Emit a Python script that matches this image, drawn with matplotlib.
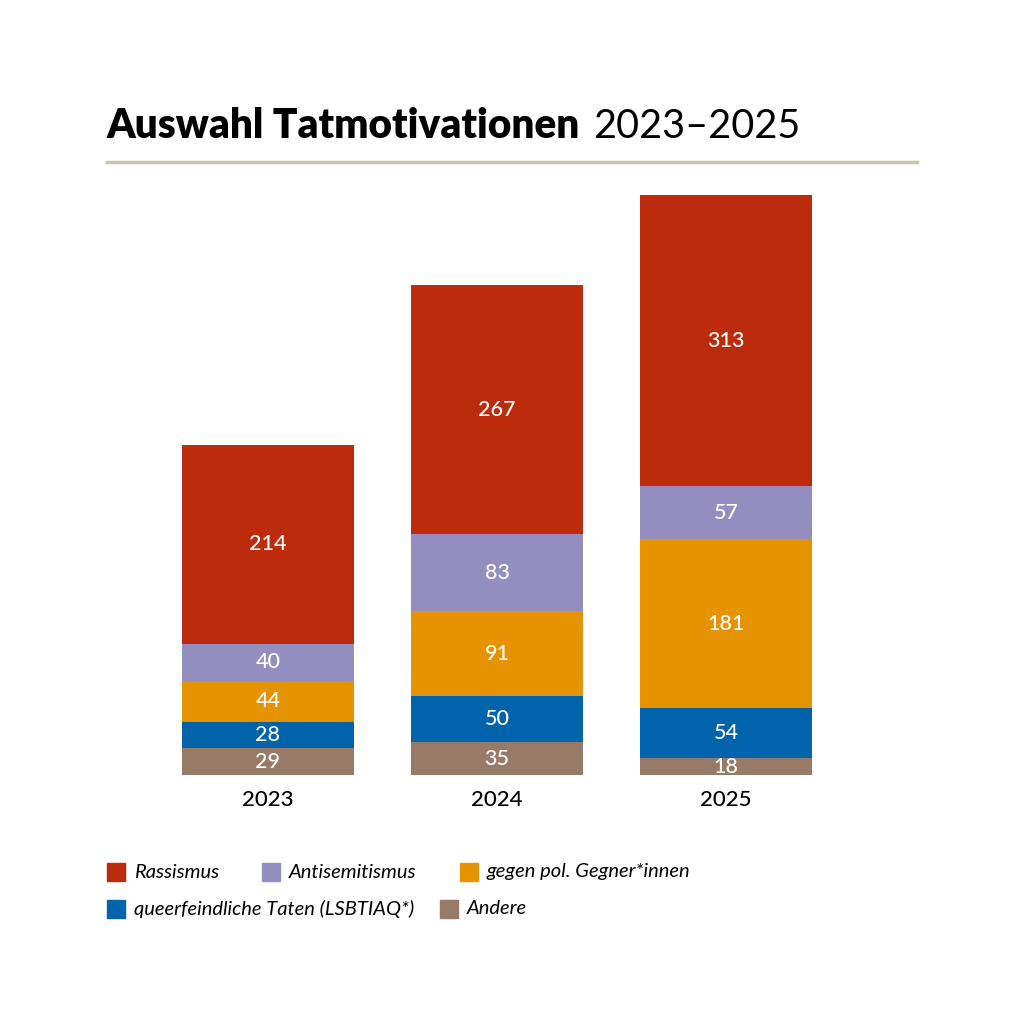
import matplotlib.pyplot as plt
from matplotlib.patches import Rectangle

# Daten
years = ["2023", "2024", "2025"]
categories = ["Andere", "queerfeindliche Taten (LSBTIAQ*)", "gegen pol. Gegner*innen",
              "Antisemitismus", "Rassismus"]
andere = [29, 35, 18]
queer = [28, 50, 54]
gegner = [44, 91, 181]
antisem = [40, 83, 57]
rassismus = [214, 267, 313]
colors = ["#977B68", "#0063AC", "#E59400", "#948EC0", "#BC2B0C"]

plt.rcParams['font.family'] = ['Lato', 'DejaVu Sans']

W = 1024
def fx(px):
    return px / W
def fy(py):
    return 1 - py / W

fig = plt.figure(figsize=(10.24, 10.24), dpi=100)
ax = fig.add_axes([fx(107), fy(775), 810 / W, 580 / W])

x = range(len(years))
bottom = [0, 0, 0]
for vals, col in zip([andere, queer, gegner, antisem, rassismus], colors):
    ax.bar(x, vals, bottom=bottom, width=172 / 229, color=col, linewidth=0)
    for i, v in enumerate(vals):
        ax.text(i, bottom[i] + v / 2, str(v), ha="center", va="center",
                color="white", fontsize=15.5, fontweight="medium")
    bottom = [b + v for b, v in zip(bottom, vals)]

ax.set_xlim(-0.703, 2.834)
ax.set_ylim(0, 623)
ax.axis("off")
for i, y in enumerate(years):
    ax.text(i, -27, y, ha="center", va="center", fontsize=16, color="black",
            fontweight="medium")

# Titel
fig.text(fx(107), fy(138), "Auswahl Tatmotivationen", fontsize=29.2, fontweight="heavy",
         ha="left", va="baseline")
fig.text(fx(593), fy(138), "2023\u20132025", fontsize=28.5, fontweight="normal",
         ha="left", va="baseline")
fig.add_artist(plt.Line2D([fx(107), fx(917)], [fy(162), fy(162)], color="#CBC6A2", lw=2.5))

# Legende
legend_items = [
    ("Rassismus", colors[4], 107, 872),
    ("Antisemitismus", colors[3], 262, 872),
    ("gegen pol. Gegner*innen", colors[2], 460, 872),
    ("queerfeindliche Taten (LSBTIAQ*)", colors[1], 107, 909),
    ("Andere", colors[0], 440, 909),
]
for label, col, px, py in legend_items:
    fig.add_artist(Rectangle((fx(px), fy(py + 9)), 18 / W, 18 / W, color=col,
                             transform=fig.transFigure))
    fig.text(fx(px + 27), fy(py), label, fontsize=14.5, style="italic",
             ha="left", va="center")

fig.savefig("out.png", dpi=100, facecolor="white")
